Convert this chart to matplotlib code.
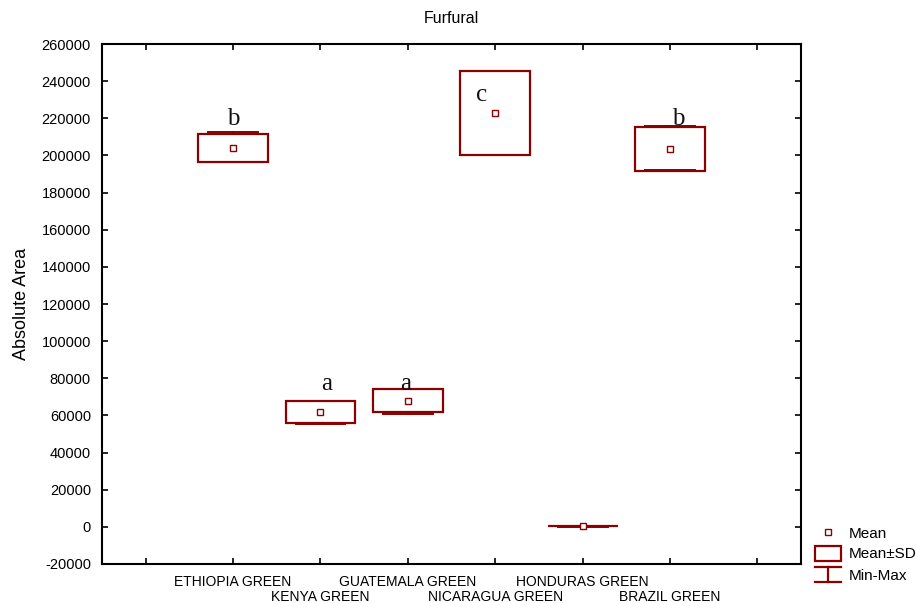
import matplotlib
matplotlib.use("Agg")
import matplotlib.pyplot as plt
from matplotlib.patches import Rectangle
from matplotlib.lines import Line2D

# Furfural absolute area per green coffee origin
origins = ["ETHIOPIA GREEN", "KENYA GREEN", "GUATEMALA GREEN",
           "NICARAGUA GREEN", "HONDURAS GREEN", "BRAZIL GREEN"]
means = [204000, 62000, 68000, 223000, 300, 203500]
sds = [7600, 6000, 6300, 22700, 100, 11650]
mins = [196600, 55400, 60900, 200100, 150, 192000]
maxs = [212800, 67900, 74200, 245500, 450, 216000]
letters = ["b", "a", "a", "c", "", "b"]
letter_x = [0.0, 1.07, 1.98, 2.84, 4.0, 5.1]
letter_y = [219600, 76900, 76900, 232500, 0, 219600]

red = "#8b0000"
plt.rcParams["font.family"] = ["Liberation Sans", "DejaVu Sans"]

fig = plt.figure(figsize=(9.16, 6.03), dpi=100)
ax = fig.add_axes([0.1114, 0.0647, 0.7631, 0.8623])

box_w = 0.8
cap_w = 0.57
for i, (m, s, lo, hi) in enumerate(zip(means, sds, mins, maxs)):
    # min-max whiskers
    ax.plot([i, i], [m + s, hi], color=red, lw=1.4, zorder=1)
    ax.plot([i, i], [m - s, lo], color=red, lw=1.4, zorder=1)
    ax.plot([i - cap_w / 2, i + cap_w / 2], [hi, hi], color=red, lw=1.4, zorder=1)
    ax.plot([i - cap_w / 2, i + cap_w / 2], [lo, lo], color=red, lw=1.4, zorder=1)
    # mean +/- sd box
    ax.add_patch(Rectangle((i - box_w / 2, m - s), box_w, 2 * s,
                           facecolor="none", edgecolor=red, lw=1.6, zorder=2))
    ax.plot(i, m, marker="s", ms=4, mfc="white", mec=red, mew=1.0, zorder=3)

for lx, ly, t in zip(letter_x, letter_y, letters):
    if t:
        ax.text(lx, ly, t, family="Liberation Serif", fontsize=18,
                ha="center", va="center", color="#111111")

ax.set_xlim(-1.5, 6.5)
ax.set_ylim(-20000, 260000)
ax.set_yticks(range(-20000, 260001, 20000))
ax.set_yticklabels([str(v) for v in range(-20000, 260001, 20000)], fontsize=10.5)
ax.set_xticks(range(-1, 7))
ax.set_xticklabels([""] + origins + [""], fontsize=10)
ax.tick_params(direction="in", length=4, width=1.2, top=True, right=True)
ax.tick_params(axis="y", pad=8)
# staggered category labels: every second one on a lower row
for k, tick in enumerate(ax.xaxis.get_major_ticks()[1:-1]):
    tick.set_pad(8 if k % 2 == 0 else 18.5)
for sp in ax.spines.values():
    sp.set_linewidth(1.5)

ax.set_title("Furfural", fontsize=11.5, pad=15)
ax.set_ylabel("Absolute Area", fontsize=13, labelpad=8)

# legend glyphs drawn to the right of the plot
fig.add_artist(Line2D([0.9035], [1 - 532 / 603], marker="s", ms=4, mfc="white",
                      mec=red, mew=1.0, transform=fig.transFigure))
fig.add_artist(Rectangle((815 / 916, 1 - 561 / 603), 26 / 916, 15 / 603,
                         facecolor="none", edgecolor=red, lw=1.6,
                         transform=fig.transFigure))
fig.add_artist(Line2D([815 / 916, 841 / 916], [1 - 567 / 603] * 2, color=red, lw=1.6,
                      transform=fig.transFigure))
fig.add_artist(Line2D([815 / 916, 841 / 916], [1 - 582 / 603] * 2, color=red, lw=1.6,
                      transform=fig.transFigure))
fig.add_artist(Line2D([828 / 916, 828 / 916], [1 - 567 / 603, 1 - 582 / 603], color=red,
                      lw=1.6, transform=fig.transFigure))
for yy, t in [(534, "Mean"), (554, "Mean±SD"), (576, "Min-Max")]:
    fig.text(849 / 916, 1 - yy / 603, t, fontsize=11, va="center", ha="left")

fig.savefig("out.png", dpi=100)
